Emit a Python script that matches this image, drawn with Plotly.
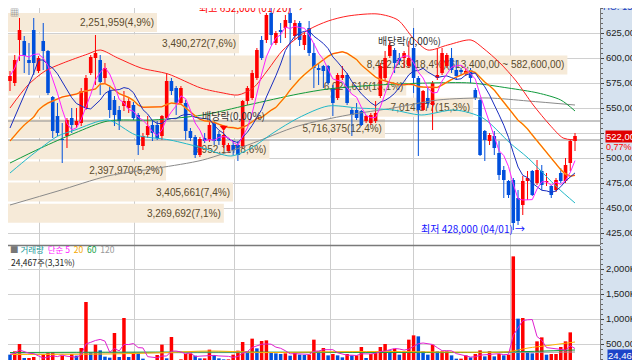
import numpy as np
import pandas as pd
import plotly.graph_objects as go

# ---------------- data (prices in thousand won, volume in thousand shares) ----------------
open_k = [577,575,618,617,598,628,587,617,607,561, 542,519,522,540,533,535,550,585,600,598,
          580,567,558,548,552,550,553,543,512,523, 533,533,522,540,577,570,555,555,527,521,
          503,520,518,535,524,513,507,513,513,512, 557,560,580,618,618,645,615,628,630,645,
          622,635,613,630,605,590,592,592,570,560, 580,583,548,548,547,537,535,537,562,580,
          602,608,600,600,592,610,580,548,560,553, 580,585,592,600,588,588,584,588,568,558,
          527,517,522,505,488,477,478,460,453,477, 487,475,487,476,472,468,485,477,495,517]
high_k = [587,603,640,622,615,640,602,635,608,562, 555,535,540,550,550,570,583,603,623,603,
          595,573,562,552,567,560,556,545,525,542, 538,537,543,585,580,572,572,558,530,523,
          521,525,536,537,527,527,515,517,517,558, 572,588,610,622,645,650,627,635,643,652,
          638,637,625,637,615,595,593,593,573,585, 592,585,550,555,548,543,545,557,595,607,
          617,610,605,607,617,630,582,568,570,577, 610,610,605,610,598,590,590,590,570,560,
          528,525,527,517,492,478,480,468,482,487, 488,498,493,485,473,480,490,500,518,525]
low_k = [567,572,597,585,583,583,585,588,563,520, 522,495,510,525,530,532,548,583,573,563,
         575,540,532,528,547,545,538,503,508,520, 517,518,518,538,563,543,553,518,517,500,
         501,515,516,513,513,510,505,503,497,510, 553,558,578,598,615,613,613,615,620,578,
         618,612,608,602,570,573,570,573,542,558, 578,553,522,538,532,535,533,535,560,577,
         600,585,593,590,590,565,502,547,550,528, 578,583,590,585,578,583,582,575,558,502,
         497,513,503,478,460,460,428,433,443,458, 462,473,468,472,460,466,475,475,487,507]
close_k = [582,598,628,602,595,595,600,607,565,527, 525,518,538,533,537,567,580,601,605,576,
           590,548,543,537,557,557,540,513,522,532, 525,520,542,577,567,555,570,527,520,503,
           519,517,533,517,517,523,513,508,503,557, 570,585,608,600,643,623,625,626,638,635,
           635,618,623,605,590,588,587,575,555,583, 583,555,543,540,533,542,543,545,592,600,
           613,595,597,605,600,580,548,567,555,575, 583,605,603,588,582,586,587,580,560,503,
           518,523,510,483,478,463,435,437,477,480, 463,488,473,477,463,478,477,493,517,522]
volume_k = [287,353,500,220,220,240,120,287,327,340, 167,267,173,300,267,420,1340,340,487,373,
            247,227,720,240,1020,240,327,313,207,147, 173,280,487,213,640,173,193,300,313,267,
            213,213,387,280,213,193,193,287,367,540, 353,607,413,560,573,327,313,300,313,267,
            340,287,280,287,587,353,420,273,300,273, 233,300,273,273,440,220,300,340,440,500,
            373,400,287,333,587,673,653,353,287,487, 353,353,353,273,207,207,273,233,300,373,
            253,353,253,300,273,287,2253,1007,1020,353, 313,553,633,287,300,300,440,553,733,24.467]

# volume-by-price profile
vp_volume = [2251959, 3490272, 8452235, 6024616, 7014677, 5716375, 3952117, 2397970, 3405661, 3269692]
vp_pct = [4.9, 7.6, 18.4, 13.1, 15.3, 12.4, 8.6, 5.2, 7.4, 7.1]
vp_extra = ["", "", "(613,400,00 ~ 582,600,00)", "", "", "", "", "", "", ""]
vp_top_center_k = 635.5
vp_step_k = 21.2

# moving-average lead-in values (before the window fills)
ma10_head_k = [530, 541, 552, 562, 573, 585, 598, 598, 593]
ma20_head_k = [517, 523, 528, 533, 537, 541, 548, 552, 555, 557, 559, 561, 562, 563, 564, 566, 567, 568, 569]

# lines (candle index, price in thousand won)
bb_up_idx = [0,3.8,7.4,11.2,16.4,19,22.7,27.6,33.3,40.2,44.9,48,51.2,54.3,57.5,62.8,67,71.2,77.5,81.7,84.9,88,92.2,97.1,99.6,103.2,106.6,110.2,113.7,116.5,119]
bb_up_k = [550,573,587,595,604,608,600,590,584,570,565,563,570,588,608,628,637,642,644,638,620,608,613,618,610,595,577,553,533,520,518]
bb_lo_idx = [0,3.8,6.5,10.1,13.7,20.6,26.5,33.7,40.6,46.5,50.8,55.4,60.7,67,73.3,80.7,86.6,93.7,99.6,105.3,109.1,115.4,119]
bb_lo_k = [485,500,510,522,528,538,523,518,510,502,510,525,540,552,550,548,543,548,540,515,500,470,455]
ma60_idx = [0,6.5,13.7,20.6,30.1,40.6,50.1,60.7,67,77.5,88,97.1,104.9,111.2,116,119]
ma60_k = [495,510,525,537,538,543,553,564,569,573,575,575,570,565,558,547]
ma120_idx = [0,10.1,20.6,31.2,40.6,50.1,60.7,71.2,80.7,90.1,100.7,109.1,119]
ma120_k = [453,467,482,490,498,513,532,543,550,558,560,557,553]

vma20_idx = [0,20.6,33.3,41.7,54.3,67,79.6,92.2,104.9,109.1,113.3,119]
vma20_k = [290,300,330,360,330,345,350,340,345,420,470,540]
vma60_idx = [0,41.7,83.8,104.9,119]
vma60_k = [330,340,330,340,380]
vma120_idx = [0,62.8,104.9,119]
vma120_k = [320,330,330,340]

price_ticks_k = [425, 450, 475, 500, 525, 550, 575, 600, 625]
price_ticks_hidden_k = [525]          # covered by the current-price box in the reference
vol_ticks = [500000, 1000000, 1500000, 2000000]
vol_tick_text = ["500,000", "1,000K", "1,500K", "2,000K"]
month_grid_idx = [6.3, 26.3, 47.2, 67.4, 84.9, 105.5]
ref_levels_k = [537, 518]
dividend_idx = [45]

# ---------------- derived ----------------
n = len(close_k)
idx = np.arange(n)
o = np.array(open_k) * 1000.0
h = np.array(high_k) * 1000.0
l = np.array(low_k) * 1000.0
c = np.array(close_k) * 1000.0
vol = np.array(volume_k) * 1000.0

cs = pd.Series(c)
ma5 = cs.rolling(5, min_periods=1).mean().values
ma10 = cs.rolling(10).mean().values
ma10[:len(ma10_head_k)] = np.array(ma10_head_k) * 1000
ma20 = cs.rolling(20).mean().values
ma20[:len(ma20_head_k)] = np.array(ma20_head_k) * 1000
vma5 = pd.Series(vol).rolling(5, min_periods=1).mean().values

RED = "#ff0000"
BLUE = "#0050dc"
up = c >= o
ccol = [RED if u else BLUE for u in up]
vcol = [BLUE] + [RED if vol[i] >= vol[i - 1] else BLUE for i in range(1, n)]

PX_PER_PCT = 30.4
W_PX, H_PX = 640, 360
PLOT_W = 592
xd = PLOT_W / W_PX
step_px = 4.748
x_first_px = 2.0
xr = [-x_first_px / step_px, (PLOT_W - x_first_px) / step_px]

fig = go.Figure()

# volume-by-price bars (main subplot)
vp_centers = [(vp_top_center_k - vp_step_k * k) * 1000 for k in range(len(vp_pct))]
vp_text = [f"{v:,}({('%.1f' % p).replace('.', ',')}%){e}" for v, p, e in zip(vp_volume, vp_pct, vp_extra)]
fig.add_trace(go.Bar(x=vp_pct, y=vp_centers, orientation="h", width=19000,
                     marker=dict(color="#f6ead8", line=dict(width=0)),
                     text=vp_text, textposition="inside", insidetextanchor="end", textangle=0,
                     constraintext="none", textfont=dict(size=10, color="#5a4a2c"),
                     xaxis="x", yaxis="y", hoverinfo="skip"))
for lv in ref_levels_k:
    fig.add_trace(go.Scatter(x=[0, PLOT_W / PX_PER_PCT], y=[lv * 1000, lv * 1000], mode="lines",
                             line=dict(color="#8c8c8c", width=1), xaxis="x", yaxis="y", hoverinfo="skip"))

# candles (overlay subplot)
for col in (RED, BLUE):
    xs, ys = [], []
    for i in range(n):
        if ccol[i] == col:
            xs += [i, i, None]
            ys += [l[i], h[i], None]
    fig.add_trace(go.Scatter(x=xs, y=ys, mode="lines", line=dict(color=col, width=1),
                             xaxis="x2", yaxis="y", hoverinfo="skip"))
body_base = np.minimum(o, c)
body_h = np.maximum(np.abs(c - o), 1000)
fig.add_trace(go.Bar(x=idx, y=body_h, base=body_base, width=0.76,
                     marker=dict(color=ccol, line=dict(width=0)), xaxis="x2", yaxis="y", hoverinfo="skip"))

# indicator lines
def sline(xv, yv, color, width, smooth=True, xa="x2", ya="y"):
    fig.add_trace(go.Scatter(x=xv, y=yv, mode="lines",
                             line=dict(color=color, width=width, shape="spline" if smooth else "linear",
                                       smoothing=0.8 if smooth else None),
                             xaxis=xa, yaxis=ya, hoverinfo="skip"))

sline(ma120_idx, [v * 1000 for v in ma120_k], "#8a8a8a", 1)
sline(ma60_idx, [v * 1000 for v in ma60_k], "#109a3c", 1)
sline(bb_lo_idx, [v * 1000 for v in bb_lo_k], "#20b8c8", 1)
sline(bb_up_idx, [v * 1000 for v in bb_up_k], "#ff2020", 1)
sline(idx, ma20, "#ffd200", 1.6, smooth=False)
sline(idx, ma20, "#ff2a2a", 0.9, smooth=False)
sline(idx, ma10, "#1a2ec0", 1, smooth=False)
sline(idx, ma5, "#ff20ff", 1, smooth=False)

# dividend marker
fig.add_trace(go.Scatter(x=dividend_idx, y=[h[i] + 3500 for i in dividend_idx], mode="markers",
                         marker=dict(symbol="triangle-down", size=7, color=RED),
                         xaxis="x2", yaxis="y", hoverinfo="skip"))

# volume panel
fig.add_trace(go.Bar(x=idx, y=vol, width=0.74, marker=dict(color=vcol, line=dict(width=0)),
                     xaxis="x3", yaxis="y2", hoverinfo="skip"))
sline(vma120_idx, [v * 1000 for v in vma120_k], "#9a9a9a", 1, xa="x3", ya="y2")
sline(vma60_idx, [v * 1000 for v in vma60_k], "#10a040", 1, xa="x3", ya="y2")
sline(vma20_idx, [v * 1000 for v in vma20_k], "#ffb000", 1, xa="x3", ya="y2")
sline(idx, vma5, "#e020d0", 1, smooth=False, xa="x3", ya="y2")

FONT = "Liberation Sans, Noto Sans CJK KR, sans-serif"
KFONT = "Noto Sans CJK KR, Liberation Sans, sans-serif"
price_dom = [1 - 237 / H_PX, 1]
vol_dom = [0, 1 - 238 / H_PX]
TICKF = dict(size=9.5, color="#222", family=FONT)

fig.update_layout(
    width=W_PX, height=H_PX, margin=dict(l=0, r=0, t=0, b=0),
    paper_bgcolor="white", plot_bgcolor="white", barmode="overlay", showlegend=False,
    font=dict(family=FONT, size=10, color="#222"),
    xaxis=dict(domain=[0, xd], range=[0, PLOT_W / PX_PER_PCT], visible=False, anchor="y", fixedrange=True),
    xaxis2=dict(domain=[0, xd], overlaying="x", anchor="y", range=xr, tickmode="array",
                tickvals=month_grid_idx, showticklabels=False, ticks="", showgrid=True,
                gridcolor="#cdcdcd", zeroline=False, showline=False),
    xaxis3=dict(domain=[0, xd], anchor="y2", range=xr, tickmode="array", tickvals=month_grid_idx,
                showticklabels=False, ticks="", showgrid=True, gridcolor="#cdcdcd", zeroline=False,
                showline=False),
    yaxis=dict(domain=price_dom, range=[413000, 650000], side="right", anchor="x",
               tickmode="array", tickvals=[t * 1000 for t in price_ticks_k],
               ticktext=["" if t in price_ticks_hidden_k else f"{t * 1000:,}" for t in price_ticks_k],
               ticks="outside", ticklen=3, tickcolor="#444", showgrid=True, gridcolor="#d0d0d0",
               showline=True, linecolor="#7a7a7a", zeroline=False,
               minor=dict(tickmode="linear", tick0=0, dtick=5000, ticks="outside", ticklen=2,
                          tickcolor="#666", showgrid=False),
               tickfont=TICKF),
    yaxis2=dict(domain=vol_dom, range=[20000, 2460000], side="right", anchor="x3",
                tickmode="array", tickvals=vol_ticks, ticktext=vol_tick_text,
                ticks="outside", ticklen=3, tickcolor="#444", showgrid=True, gridcolor="#d0d0d0",
                showline=True, linecolor="#7a7a7a", zeroline=False,
                minor=dict(tickmode="linear", tick0=0, dtick=100000, ticks="outside", ticklen=2,
                           tickcolor="#666", showgrid=False),
                tickfont=TICKF),
)

# axis panel background and panel separator
fig.add_shape(type="rect", xref="paper", yref="paper", x0=xd, x1=1, y0=0, y1=1,
              fillcolor="#d6e2ef", line=dict(width=0), layer="below")
fig.add_shape(type="line", xref="paper", yref="paper", x0=0, x1=xd, y0=1 - 237.5 / H_PX, y1=1 - 237.5 / H_PX,
              line=dict(color="#7a7a7a", width=1.5))

def px(x):
    return x / W_PX

def py(y):
    return 1 - y / H_PX

def ann(text, x, y, color="#222", size=10, xanchor="left", font=KFONT, bg=None, yref="paper", yv=None):
    fig.add_annotation(text=text, x=px(x), y=py(y) if yv is None else yv, xref="paper", yref=yref,
                       xanchor=xanchor, yanchor="middle", showarrow=False,
                       font=dict(size=size, color=color, family=font),
                       bgcolor=bg, borderpad=0)

ann(f"최고 {max(high_k) * 1000:,} (01/20) →", 190, -1, color=RED)
ann(f"최저 {min(low_k) * 1000:,} (04/01) →", 412, 220, color="#1414ff")
ann("배당락(0,00%)", 193, 107, color="#333")
ann("배당락(0,00%)", 369, 32, color="#333")
ann(f"{close_k[-1] * 1000:,}", 615, 0, color="white", xanchor="center", font=FONT, bg="#e00000",
    size=9.5, yref="y", yv=close_k[-1] * 1000)
ann("0,77%", 597, 139, color=RED, font=FONT, size=9)
ann(f"{int(round(volume_k[-1] * 1000)):,}", 614, 347, color="white", xanchor="center", font=FONT,
    bg="#1c44c8", size=9.5)
ann("3,31%", 597, 357, color="#1c44c8", font=FONT, size=8.5)
ann("HC: 15,34", 594, -2, color="#2040c0", font=FONT, size=9.5)
ann("▦", 1, 5, color="#666", size=9)
ann("<span style='color:#777'>■</span> <span style='color:#1a9a9a'>거래량</span>  "
    "<span style='color:#ff20ff'>단순 5</span>  <span style='color:#f5a800'>20</span>  "
    "<span style='color:#10a040'>60</span>  <span style='color:#999'>120</span>", 1, 241, size=8.5)
ann(f"{int(round(volume_k[-1] * 1000)):,}주(3,31%)", 2, 253.5, color="#222", size=8.5)
ann("■", 627, 242, color="#333", size=7)

fig.write_html("out.html")
